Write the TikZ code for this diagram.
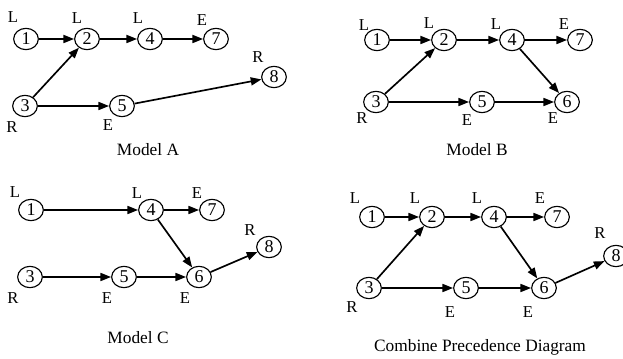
\documentclass[tikz,border=0pt]{standalone}
\usepackage{fontspec}
\setmainfont{Liberation Serif}
\usetikzlibrary{arrows.meta,shapes.geometric}
\begin{document}
\begin{tikzpicture}[x=0.75pt,y=-0.75pt,
  ev/.style={ellipse,draw,line width=0.85pt,minimum width=18.5pt,minimum height=16pt,inner sep=0pt,font=\fontsize{13.5}{14}\selectfont},
  tag/.style={inner sep=0pt,font=\fontsize{12.5}{13}\selectfont},
  captxt/.style={inner sep=0pt,font=\fontsize{13}{14}\selectfont},
  arr/.style={line width=1.25pt,-{Triangle[length=8pt,width=6pt]}}]
\useasboundingbox (0,0) rectangle (623,359);
% ---------- Model A ----------
\node[ev] (a1) at (26,39) {1};
\node[ev] (a2) at (87,39) {2};
\node[ev] (a4) at (150,39) {4};
\node[ev] (a7) at (216,39) {7};
\node[ev] (a8) at (274,77) {8};
\node[ev] (a3) at (25,106) {3};
\node[ev] (a5) at (122,106) {5};
\node[tag] (la1) at (13,17) {L};
\node[tag] (la2) at (77,18) {L};
\node[tag] (la4) at (138,18) {L};
\node[tag] (la7) at (202,20) {E};
\node[tag] (la8) at (258,57) {R};
\node[tag] (la3) at (12,127) {R};
\node[tag] (la5) at (108,125) {E};
\node[captxt] (capA) at (148,150) {Model A};
\draw[arr] (a1) -- (a2);
\draw[arr] (a2) -- (a4);
\draw[arr] (a4) -- (a7);
\draw[arr] (a3) -- (a2);
\draw[arr] (a3) -- (a5);
\draw[arr] (a5) -- (a8);
% ---------- Model B ----------
\node[ev] (b1) at (377,40) {1};
\node[ev] (b2) at (444,40) {2};
\node[ev] (b4) at (512,40) {4};
\node[ev] (b7) at (580,40) {7};
\node[ev] (b3) at (376,102) {3};
\node[ev] (b5) at (482,102) {5};
\node[ev] (b6) at (567,102) {6};
\node[tag] (lb1) at (364,25) {L};
\node[tag] (lb2) at (429,23) {L};
\node[tag] (lb4) at (496,24) {L};
\node[tag] (lb7) at (564,24) {E};
\node[tag] (lb3) at (362,118) {R};
\node[tag] (lb5) at (467,120) {E};
\node[tag] (lb6) at (553,118) {E};
\node[captxt] (capB) at (477,150) {Model B};
\draw[arr] (b1) -- (b2);
\draw[arr] (b2) -- (b4);
\draw[arr] (b4) -- (b7);
\draw[arr] (b3) -- (b2);
\draw[arr] (b3) -- (b5);
\draw[arr] (b5) -- (b6);
\draw[arr] (b4) -- (b6);
% ---------- Model C ----------
\node[ev] (c1) at (31,210) {1};
\node[ev] (c4) at (151,210) {4};
\node[ev] (c7) at (212,210) {7};
\node[ev] (c8) at (269,247) {8};
\node[ev] (c3) at (30,277) {3};
\node[ev] (c5) at (124,277) {5};
\node[ev] (c6) at (199,277) {6};
\node[tag] (lc1) at (15,192) {L};
\node[tag] (lc4) at (137,193) {L};
\node[tag] (lc7) at (197,193) {E};
\node[tag] (lc8) at (250,230) {R};
\node[tag] (lc3) at (13,298) {R};
\node[tag] (lc5) at (107,298) {E};
\node[tag] (lc6) at (185,298) {E};
\node[captxt] (capC) at (138,338) {Model C};
\draw[arr] (c1) -- (c4);
\draw[arr] (c4) -- (c7);
\draw[arr] (c4) -- (c6);
\draw[arr] (c3) -- (c5);
\draw[arr] (c5) -- (c6);
\draw[arr] (c6) -- (c8);
% ---------- Combine ----------
\node[ev] (d1) at (372,217) {1};
\node[ev] (d2) at (432,217) {2};
\node[ev] (d4) at (494,217) {4};
\node[ev] (d7) at (557,217) {7};
\node[ev] (d8) at (616,256) {8};
\node[ev] (d3) at (369,288) {3};
\node[ev] (d5) at (466,288) {5};
\node[ev] (d6) at (544,288) {6};
\node[tag] (ld1) at (355,198) {L};
\node[tag] (ld2) at (415,198) {L};
\node[tag] (ld4) at (477,198) {L};
\node[tag] (ld7) at (540,198) {E};
\node[tag] (ld8) at (600,233) {R};
\node[tag] (ld3) at (352,307) {R};
\node[tag] (ld5) at (450,312) {E};
\node[tag] (ld6) at (528,312) {E};
\node[captxt] (capD) at (480,347) {Combine Precedence Diagram};
\draw[arr] (d1) -- (d2);
\draw[arr] (d2) -- (d4);
\draw[arr] (d4) -- (d7);
\draw[arr] (d3) -- (d2);
\draw[arr] (d3) -- (d5);
\draw[arr] (d5) -- (d6);
\draw[arr] (d4) -- (d6);
\draw[arr] (d6) -- (d8);
\end{tikzpicture}
\end{document}
